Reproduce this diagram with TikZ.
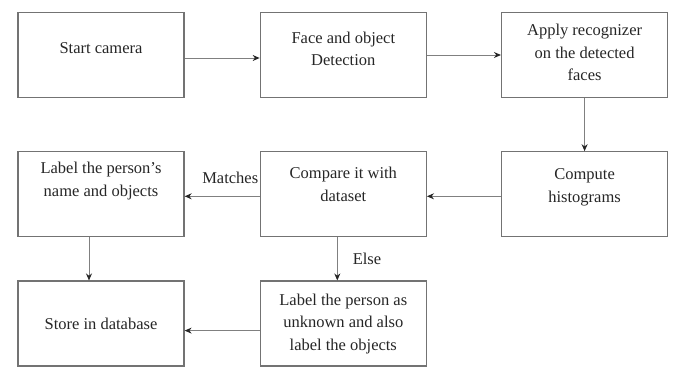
\documentclass[tikz,border=0pt]{standalone}
\usepackage{fontspec}
\setmainfont{Liberation Serif}
\usetikzlibrary{arrows.meta, positioning}

\begin{document}
\begin{tikzpicture}[x=1pt, y=-1pt]
        % Define node styles
        \tikzstyle{stage} = [draw=black!55, line width=1.3pt, rectangle, minimum width=166pt, minimum height=85pt, align=center, text=black!85, font=\fontsize{16.5}{22.5}\selectfont]
        \tikzstyle{lift} = [text depth=#1]
        \tikzstyle{flow} = [-{Stealth[length=7pt, width=6pt, color=black!85]}, draw=black!50, line width=0.9pt]
        \tikzstyle{tag} = [text=black!85, font=\fontsize{16.5}{20}\selectfont, inner sep=1pt]

        \useasboundingbox (0,0) rectangle (673,367);

        % Draw the nodes
        \node[stage, lift=14pt] (start) at (101,55) {Start camera};
        \node[stage, lift=12pt, right=75pt of start] (detect) {Face and object\\Detection};
        \node[stage, lift=5pt, right=74pt of detect] (apply) {Apply recognizer\\on the detected\\faces};
        \node[stage, lift=18pt, below=53pt of apply] (histo) {Compute\\histograms};
        \node[stage, lift=20pt, left=74pt of histo] (compare) {Compare it with\\dataset};
        \node[stage, lift=30pt, left=75pt of compare] (named) {Label the person's\\name and objects};
        \node[stage, below=43pt of named] (store) {Store in database};
        \node[stage, below=43pt of compare] (unknown) {Label the person as\\unknown and also\\label the objects};

        % Draw the connectors
        \draw[flow] ([yshift=-3pt]start.east) -- ([yshift=-3pt]start.east -| detect.west);
        \draw[flow] (detect) -- (apply);
        \draw[flow] (apply) -- (histo);
        \draw[flow] ([yshift=-2pt]histo.west) -- ([yshift=-2pt]histo.west -| compare.east);
        \draw[flow] ([yshift=-2pt]compare.west) --
            node[tag, pos=0, anchor=south east, yshift=11pt] {Matches} ([yshift=-2pt]compare.west -| named.east);
        \draw[flow] ([xshift=-12pt]named.south) -- ([xshift=-12pt]store.north);
        \draw[flow] ([xshift=-6pt]compare.south) --
            node[tag, right=14pt] {Else} ([xshift=-6pt]unknown.north);
        \draw[flow] ([yshift=-7pt]unknown.west) -- ([yshift=-7pt]unknown.west -| store.east);
    \end{tikzpicture}
\end{document}
